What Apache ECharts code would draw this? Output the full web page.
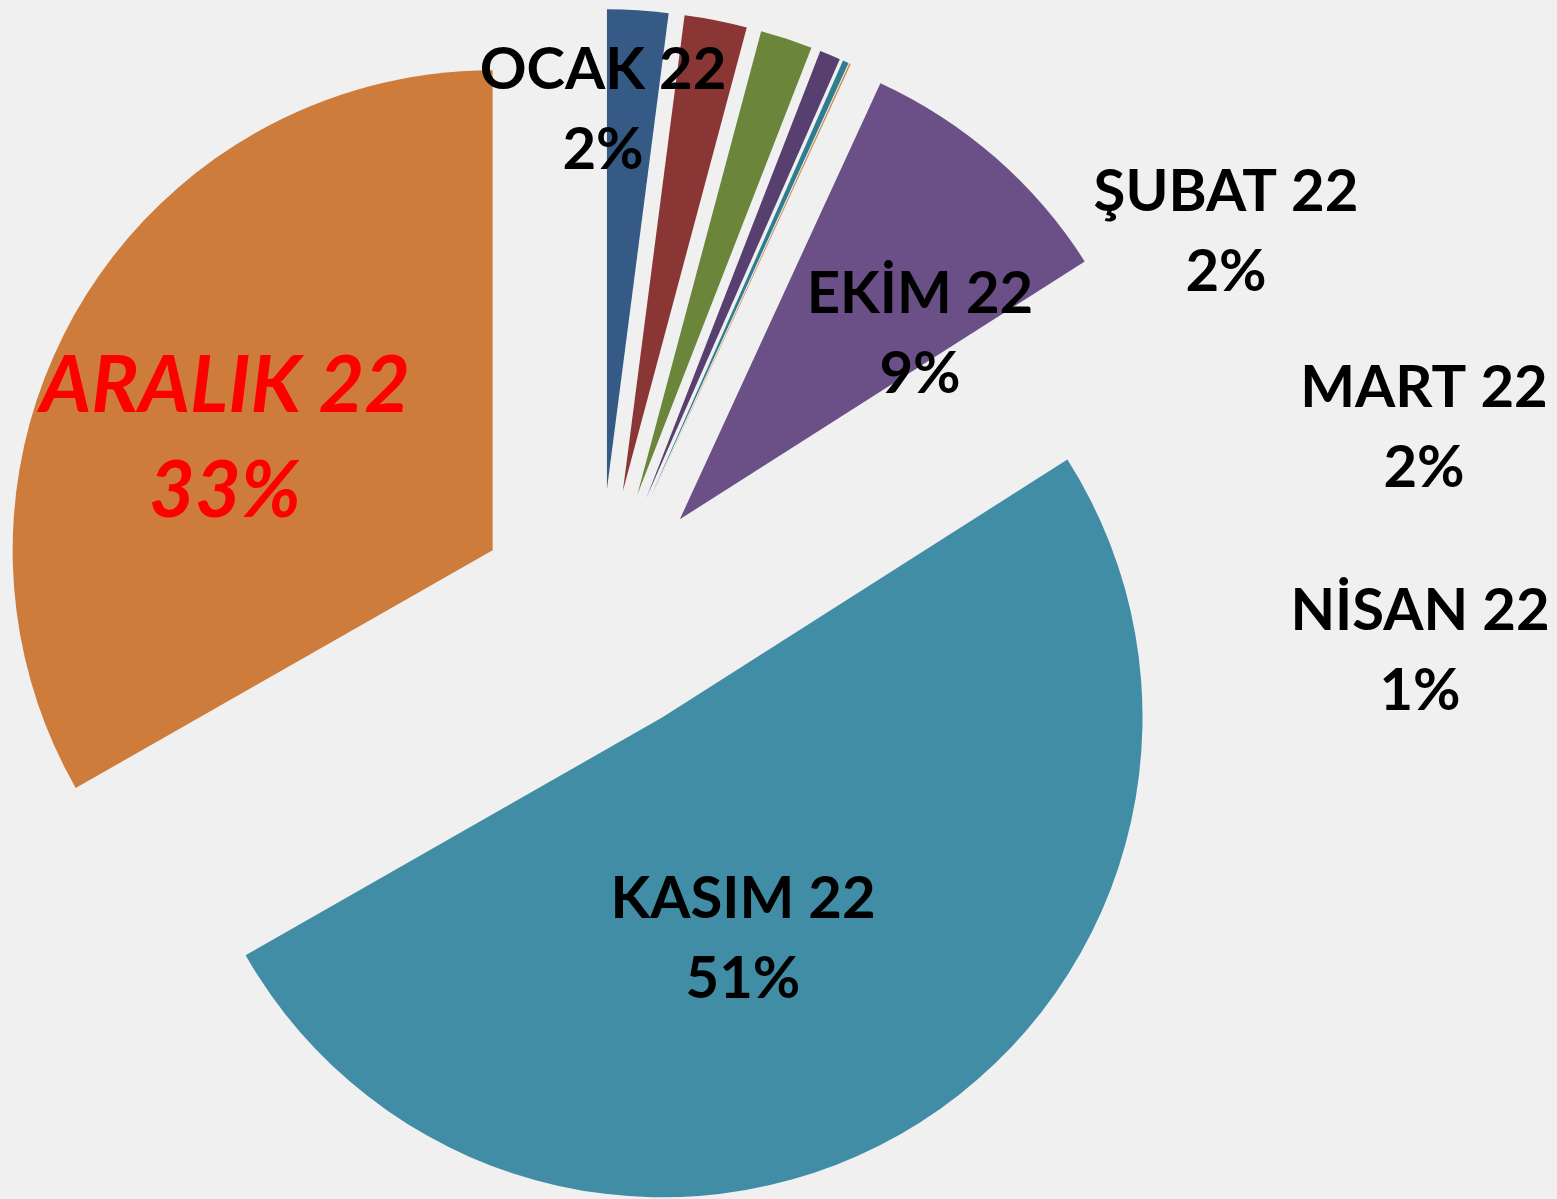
<!DOCTYPE html>
<html>
<head>
<meta charset="utf-8">
<script src="https://cdn.jsdelivr.net/npm/echarts@6/dist/echarts.min.js"></script>
<style>
  html, body { margin: 0; padding: 0; background: #f0f0f0; }
  #chart { width: 1557px; height: 1199px; }
</style>
</head>
<body>
<div id="chart"></div>
<script>
// aylar (share of total)
var months = ['OCAK 22', 'ŞUBAT 22', 'MART 22', 'NİSAN 22', 'MAYIS 22', 'HAZİRAN 22',
  'TEMMUZ 22', 'AĞUSTOS 22', 'EYLÜL 22', 'EKİM 22', 'KASIM 22', 'ARALIK 22'];
var shares = [2.05, 2.1, 1.75, 0.7, 0.2, 0.05, 0, 0, 0, 9.1, 50.7, 33.2];
var labelled = [true, true, true, true, false, false, false, false, false, true, true, true];

var colors = ['#355a86', '#8a3634', '#6b853a', '#574070', '#2f7d90', '#d08a4a',
  '#2c4d75', '#772c2a', '#5f7530', '#6b5087', '#418da5', '#cd7c3b'];

// where the labels sit (centre of the two-line block)
var labelPos = {
  0: [603, 110], 1: [1226, 232], 2: [1424, 428], 3: [1420, 651],
  9: [920, 334], 10: [743, 939], 11: [225, 439]
};

var chart = echarts.init(document.getElementById('chart'));

// exploded slices
var sliceData = months.map(function (name, i) {
  return {
    name: name,
    value: shares[i],
    selected: true,
    itemStyle: { color: colors[i] }
  };
});

// same pie, invisible, only carries the labels
var labelData = months.map(function (name, i) {
  var item = {
    name: name,
    value: shares[i],
    label: { show: labelled[i] }
  };
  if (name === 'ARALIK 22') {
    item.label = {
      show: true,
      color: '#ff0000',
      fontStyle: 'italic',
      fontSize: 79,
      lineHeight: 105
    };
  }
  return item;
});

var option = {
  backgroundColor: '#f0f0f0',
  animation: false,
  series: [
    {
      type: 'pie',
      center: [599, 612],
      radius: 480,
      startAngle: 90,
      clockwise: true,
      selectedMode: 'multiple',
      selectedOffset: 123,
      silent: true,
      label: { show: false },
      labelLine: { show: false },
      select: { itemStyle: {} },
      data: sliceData
    },
    {
      type: 'pie',
      center: [599, 612],
      radius: 480,
      startAngle: 90,
      clockwise: true,
      silent: true,
      z: 5,
      avoidLabelOverlap: false,
      percentPrecision: 0,
      itemStyle: { color: 'rgba(0,0,0,0)' },
      label: {
        position: 'inside',
        formatter: '{b}\n{d}%',
        fontFamily: 'Lato',
        fontWeight: 'bold',
        fontSize: 58,
        lineHeight: 80,
        color: '#000'
      },
      labelLine: { show: false },
      labelLayout: function (params) {
        var p = labelPos[params.dataIndex];
        if (!p) return {};
        return { x: p[0], y: p[1], align: 'center', verticalAlign: 'middle' };
      },
      data: labelData
    }
  ]
};

chart.setOption(option);
</script>
</body>
</html>
